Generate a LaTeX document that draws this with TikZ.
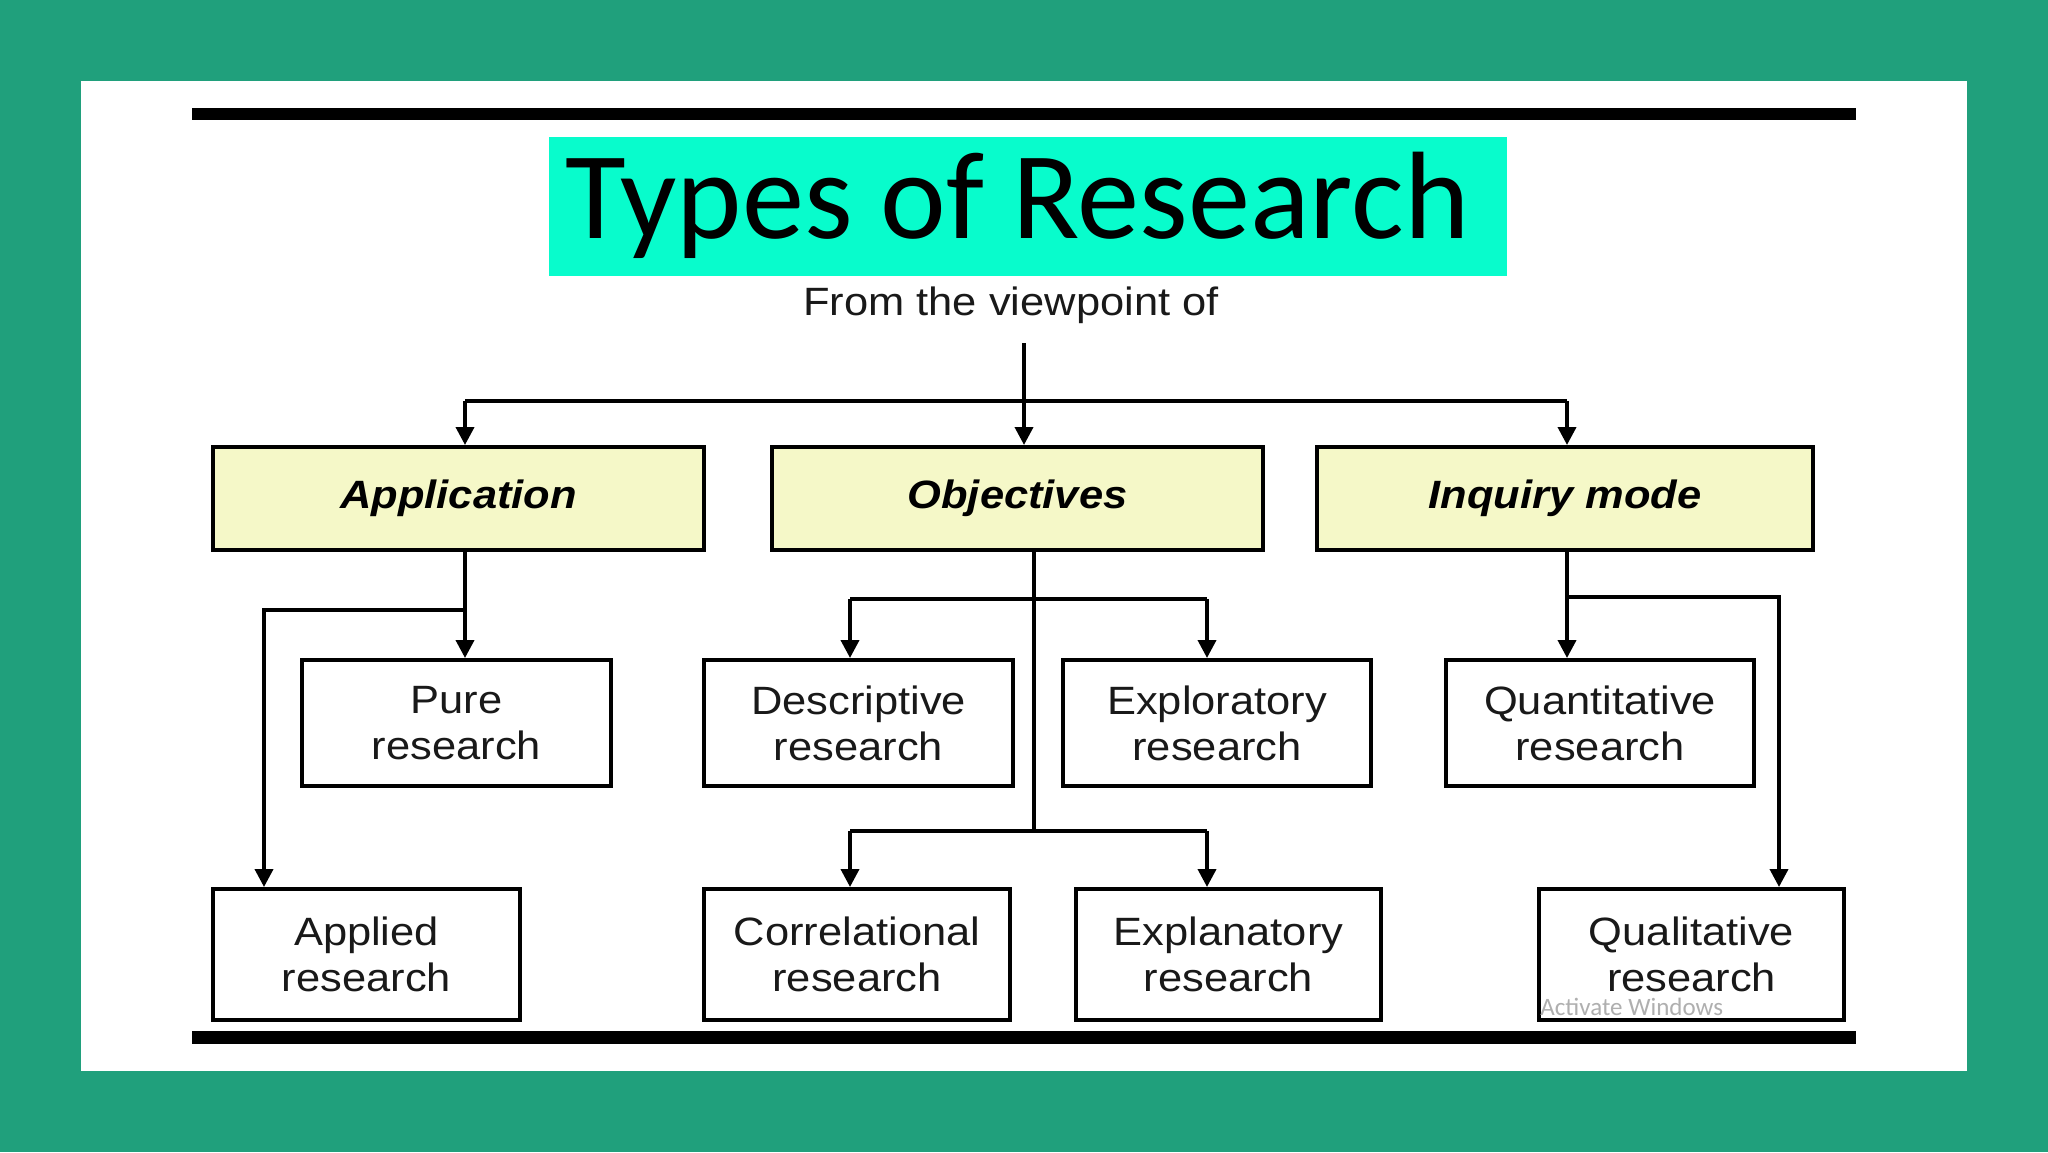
\documentclass[tikz,border=0pt]{standalone}
\usepackage{fontspec}
\usetikzlibrary{arrows.meta}
\newfontfamily\boxfont[FakeStretch=1.1]{Liberation Sans}
\newfontfamily\titlefont{Carlito}
\definecolor{bggreen}{RGB}{32,160,124}
\definecolor{titlecyan}{RGB}{8,252,204}
\definecolor{hdrfill}{RGB}{245,248,200}
\definecolor{wmgray}{RGB}{175,175,175}
\definecolor{txt}{RGB}{25,25,25}
\tikzset{
  hdr/.style={draw, line width=2pt, fill=hdrfill, minimum height=51.5pt, inner sep=0pt,
    text=black, font=\boxfont\bfseries\itshape\fontsize{19.75}{23}\selectfont},
  leaf/.style={draw, line width=2pt, fill=white, align=center, inner sep=0pt,
    text=txt, font=\boxfont\fontsize{19.75}{23}\selectfont},
  conn/.style={line width=1.9pt},
  arr/.style={line width=1.9pt, -{Triangle[length=9pt,width=9pt]}},
}
\begin{document}
\begin{tikzpicture}[x=0.5pt,y=-0.5pt]
\useasboundingbox (0,0) rectangle (2048,1152);
\fill[bggreen] (0,0) rectangle (2048,1152);
\fill[white] (81,81) rectangle (1967,1071);
\fill[black] (192,108) rectangle (1856,120);
\fill[black] (192,1031) rectangle (1856,1044);
\fill[titlecyan] (549,137) rectangle (1507,276);
\node[anchor=base west, inner sep=0pt, text=black, font=\titlefont\fontsize{62.2}{70}\selectfont] (title) at (565,238) {Types of Research};
\node[anchor=base, inner sep=0pt, text=txt, font=\boxfont\fontsize{19.75}{23}\selectfont] (from) at (1011,315) {From the viewpoint of};

% header boxes
\node[hdr, minimum width=245.5pt] (app) at (458.5,498.5) {Application};
\node[hdr, minimum width=245.5pt] (obj) at (1017.5,498.5) {Objectives};
\node[hdr, minimum width=248pt] (inq) at (1565,498.5) {Inquiry mode};

% second row
\node[leaf, minimum width=154.5pt, minimum height=63pt] (pure) at (456.5,723) {Pure\\research};
\node[leaf, minimum width=154.5pt, minimum height=63pt] (desc) at (858.5,723) {Descriptive\\research};
\node[leaf, minimum width=154pt, minimum height=63pt] (expl) at (1217,723) {Exploratory\\research};
\node[leaf, minimum width=154pt, minimum height=63pt] (quant) at (1600,723) {Quantitative\\research};

% third row
\node[leaf, minimum width=153.5pt, minimum height=65.5pt] (applied) at (366.5,954.5) {Applied\\research};
\node[leaf, minimum width=153pt, minimum height=65.5pt] (corr) at (857,954.5) {Correlational\\research};
\node[leaf, minimum width=152.5pt, minimum height=65.5pt] (expn) at (1228.5,954.5) {Explanatory\\research};
\node[leaf, minimum width=152.5pt, minimum height=65.5pt] (qual) at (1691.5,954.5) {Qualitative\\research};

% top connectors
\coordinate (top) at (1024,343);
\coordinate (hl) at (465,401);
\coordinate (hr) at (1567,401);
\draw[arr] (top) -- (top |- obj.north);
\draw[conn] (hl) -- (hr);
\draw[arr] (hl) -- (hl |- app.north);
\draw[arr] (hr) -- (hr |- inq.north);

% application branch
\coordinate (ab) at (465,610);
\coordinate (ab2) at (264,610);
\draw[arr] (app.south -| hl) -- (hl |- pure.north);
\draw[arr] (ab) -- (ab2) -- (ab2 |- applied.north);

% objectives branch
\coordinate (otr) at (1034,831);
\coordinate (ou1) at (850,599);
\coordinate (ou2) at (1207,599);
\coordinate (ol1) at (850,831);
\coordinate (ol2) at (1207,831);
\draw[conn] (obj.south -| otr) -- (otr);
\draw[conn] (ou1) -- (ou2);
\draw[arr] (ou1) -- (ou1 |- desc.north);
\draw[arr] (ou2) -- (ou2 |- expl.north);
\draw[conn] (ol1) -- (ol2);
\draw[arr] (ol1) -- (ol1 |- corr.north);
\draw[arr] (ol2) -- (ol2 |- expn.north);

% inquiry branch
\coordinate (ib) at (1567,597);
\coordinate (ib2) at (1779,597);
\draw[arr] (inq.south -| ib) -- (ib |- quant.north);
\draw[arr] (ib) -- (ib2) -- (ib2 |- qual.north);

% watermark
\node[anchor=base west, inner sep=0pt, text=wmgray, font=\titlefont\fontsize{12.5}{14}\selectfont] (wm) at (1540,1015) {Activate Windows};
\end{tikzpicture}
\end{document}
